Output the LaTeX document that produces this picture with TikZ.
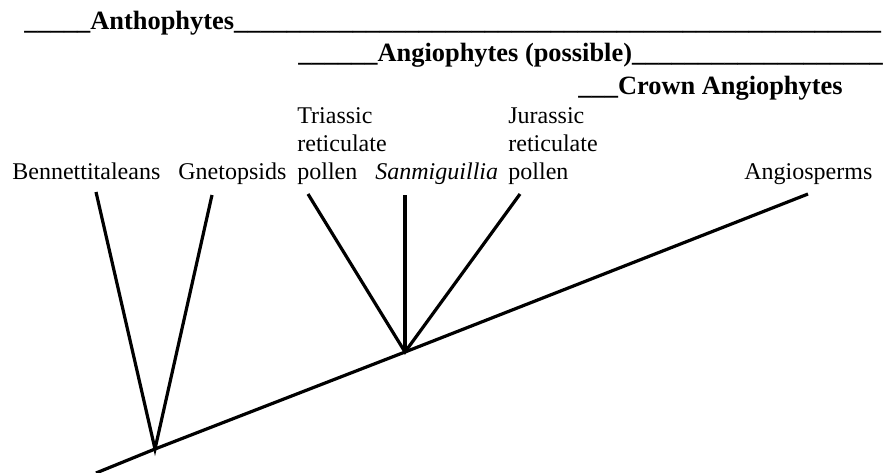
\documentclass[tikz,border=0pt]{standalone}
\usepackage{fontspec}
\setmainfont{Liberation Serif}
\newcommand{\bars}[1]{\foreach \k in {1,...,#1}{\_}}
\begin{document}
\begin{tikzpicture}[x=0.5pt,y=-0.5pt,
  clade/.style={anchor=base west,inner sep=0pt,font=\fontsize{13.2}{15}\selectfont\bfseries},
  taxon/.style={anchor=base west,inner sep=0pt,align=left,font=\fontsize{12}{13.8}\selectfont},
  branch/.style={line width=1.6pt}]
\useasboundingbox (0,0) rectangle (888,472);
\node[clade] (antho) at (24,29) {\bars{5}Anthophytes\bars{49}};
\node[clade] (angio) at (298,61) {\bars{6}Angiophytes (possible)\bars{19}};
\node[clade] (crown) at (578,94) {\bars{3}Crown Angiophytes};
\node[taxon] (benn) at (12,179) {Bennettitaleans};
\node[taxon] (gnet) at (178,179) {Gnetopsids};
\node[taxon] (tria) at (297,179) {Triassic\\reticulate\\pollen};
\node[taxon] (sanm) at (375,179) {\itshape Sanmiguillia};
\node[taxon] (jura) at (508,179) {Jurassic\\reticulate\\pollen};
\node[taxon] (angs) at (744,179) {Angiosperms};
\coordinate (root) at (96,473);
\coordinate (n1) at (155,449);
\coordinate (n2) at (405,352);
\coordinate (t1) at (96,192);
\coordinate (t2) at (212,195);
\coordinate (t3) at (308,194);
\coordinate (t4) at (405,195);
\coordinate (t5) at (520,194);
\coordinate (t6) at (808,194);
\draw[branch] (root) -- (n1) -- (n2) -- (t6);
\draw[branch] (t1) -- (n1) -- (t2);
\draw[branch] (t3) -- (n2) -- (t5);
\draw[branch] (t4) -- (n2);
\end{tikzpicture}
\end{document}
